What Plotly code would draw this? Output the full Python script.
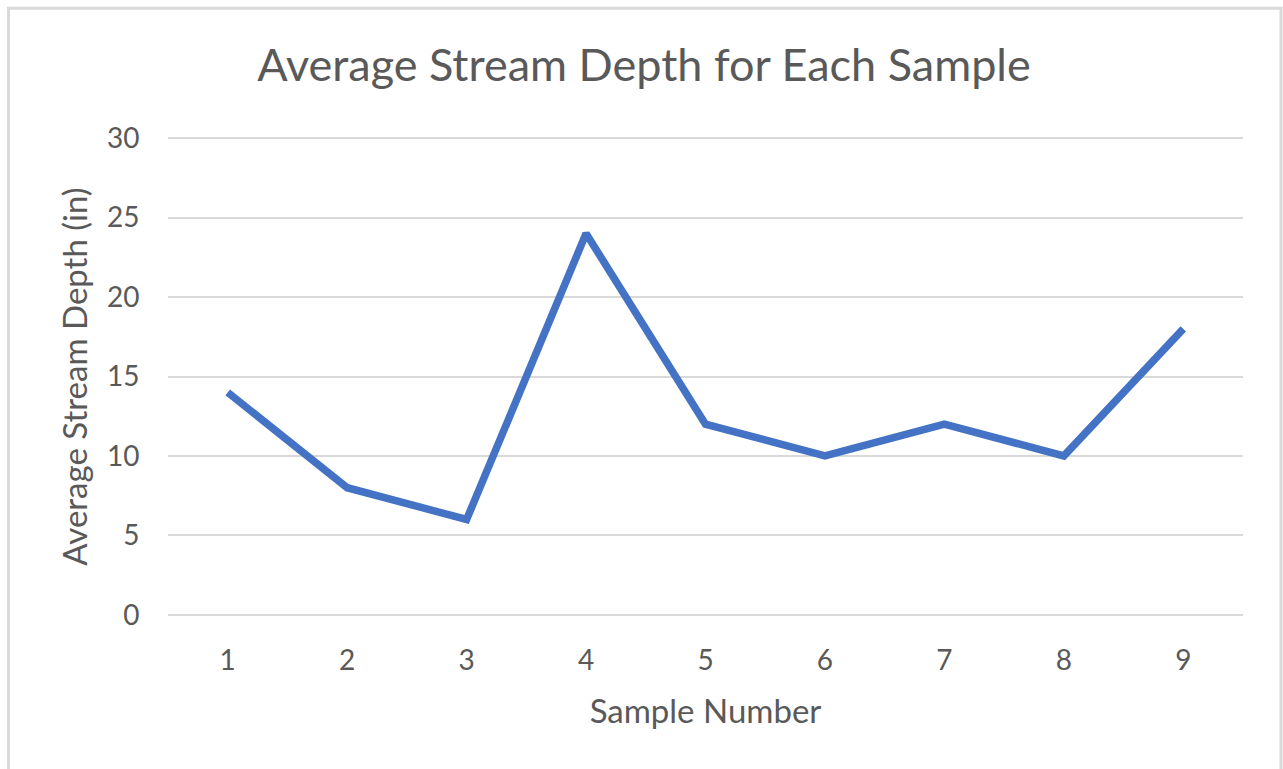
import plotly.graph_objects as go

samples = [1, 2, 3, 4, 5, 6, 7, 8, 9]
depths = [14, 8, 6, 24, 12, 10, 12, 10, 18]
y_ticks = [0, 5, 10, 15, 20, 25, 30]

W, H = 1283, 769
# pixel positions of the category band edges and the 0 / 30 gridlines
L, R = 168, 1243
Y30, Y0 = 138, 615
ymin, ymax = -0.2, 30.2
ppu = (Y0 - Y30) / 30.0
T = Y30 - (ymax - 30) * ppu
B = Y0 + (0 - ymin) * ppu

def px_x(x):
    return (x - L) / (R - L)

def px_y(y):
    return (B - y) / (B - T)

font = "Lato, Carlito, Calibri, sans-serif"
gray = "#595959"

fig = go.Figure()
fig.add_trace(go.Scatter(
    x=samples, y=depths, mode="lines",
    line=dict(color="#4472C4", width=7.5),
    showlegend=False,
))

fig.update_layout(
    width=W, height=H,
    margin=dict(l=L, r=W - R, t=T, b=H - B),
    paper_bgcolor="white", plot_bgcolor="white",
    title=dict(
        text="Average Stream Depth for Each Sample",
        font=dict(family=font, size=45, color=gray),
        x=(253 + 1035) / 2 / W, xanchor="center",
        y=1 - 65 / H, yanchor="middle", yref="container",
    ),
    xaxis=dict(
        range=[0.5, 9.5], tickvals=samples, ticktext=[str(s) for s in samples],
        showgrid=False, zeroline=False, showline=False,
        tickfont=dict(family=font, size=28, color=gray),
        ticks="outside", ticklen=21 - (B - Y0), tickcolor="rgba(0,0,0,0)",
        title=dict(text="Sample Number", font=dict(family=font, size=33, color=gray), standoff=24),
    ),
    yaxis=dict(
        range=[ymin, ymax], tickvals=y_ticks,
        showgrid=True, gridcolor="#d9d9d9", gridwidth=2,
        zeroline=False, showline=False,
        tickfont=dict(family=font, size=28, color=gray),
        ticks="outside", ticklen=22, tickcolor="rgba(0,0,0,0)",
        title=dict(text="Average Stream Depth (in)", font=dict(family=font, size=33, color=gray), standoff=9),
    ),
    shapes=[dict(
        type="rect", xref="paper", yref="paper",
        x0=px_x(8.5), x1=px_x(1281), y0=px_y(772), y1=px_y(8),
        line=dict(color="#d9d9d9", width=3), fillcolor="rgba(0,0,0,0)", layer="below",
    )],
)

fig.write_html(
    "out.html",
    config={"displayModeBar": False},
    post_script="document.body.style.margin='0';document.body.style.overflow='hidden';",
)
